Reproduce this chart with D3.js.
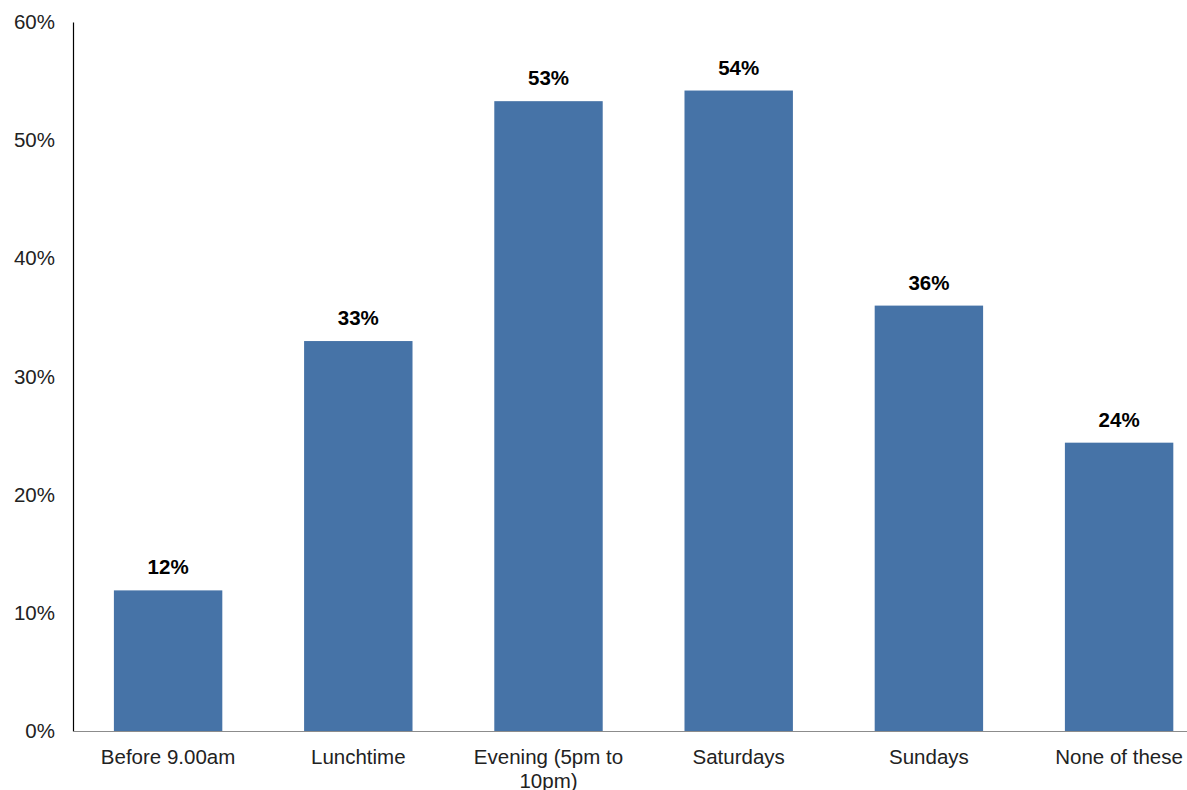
<!DOCTYPE html>
<html><head>
<meta charset="utf-8">
<script src="https://cdnjs.cloudflare.com/ajax/libs/d3/7.8.5/d3.min.js"></script>
<style>
  body { margin: 0; background: #fff; }
  svg text { font-family: "Liberation Sans", Arial, sans-serif; fill: #000; }
  .tick-label { font-size: 20.5px; fill: #222; }
  .value-label { font-size: 20.5px; font-weight: bold; text-anchor: middle; }
</style>
</head>
<body>
<script>
var categories = ["Before 9.00am", "Lunchtime", "Evening (5pm to 10pm)", "Saturdays", "Sundays", "None of these"];
var categoryLines = [["Before 9.00am"], ["Lunchtime"], ["Evening (5pm to", "10pm)"], ["Saturdays"], ["Sundays"], ["None of these"]];
var values = [0.119, 0.33, 0.533, 0.542, 0.36, 0.244];
var valueLabels = ["12%", "33%", "53%", "54%", "36%", "24%"];
var yTicks = [0, 0.1, 0.2, 0.3, 0.4, 0.5, 0.6];

var width = 1187, height = 790;
var plotLeft = 73, plotTop = 22, plotBottom = 731;
var step = 190.2;

var svg = d3.select("body").append("svg")
    .attr("width", width).attr("height", height);

var x = d3.scaleBand()
    .domain(categories)
    .range([plotLeft, plotLeft + step * categories.length])
    .paddingInner(0.43)
    .paddingOuter(0.215);

var y = d3.scaleLinear().domain([0, 0.6]).range([plotBottom, plotTop]);

// bars
svg.selectAll("rect.bar")
    .data(values)
    .enter().append("rect")
    .attr("class", "bar")
    .attr("x", function(d, i) { return x(categories[i]); })
    .attr("width", x.bandwidth())
    .attr("y", function(d) { return y(d); })
    .attr("height", function(d) { return plotBottom - y(d); })
    .attr("fill", "#4673a7");

// value labels
svg.selectAll("text.value-label")
    .data(values)
    .enter().append("text")
    .attr("class", "value-label")
    .attr("x", function(d, i) { return x(categories[i]) + x.bandwidth() / 2; })
    .attr("y", function(d) { return y(d) - 16; })
    .text(function(d, i) { return valueLabels[i]; });

// y axis
var yAxis = d3.axisLeft(y).tickValues(yTicks).tickSize(0).tickPadding(18)
    .tickFormat(d3.format(".0%"));
var gy = svg.append("g").attr("transform", "translate(" + plotLeft + ",0)").call(yAxis);
gy.select(".domain").attr("stroke", "#000").attr("stroke-width", 1.2);
gy.selectAll("text").attr("class", "tick-label").attr("font-size", null).attr("font-family", null);

// x axis line
svg.append("line")
    .attr("x1", plotLeft).attr("x2", width)
    .attr("y1", plotBottom + 0.5).attr("y2", plotBottom + 0.5)
    .attr("stroke", "#8c8c8c").attr("stroke-width", 1.2);

// category labels
var cat = svg.selectAll("text.cat")
    .data(categoryLines)
    .enter().append("text")
    .attr("class", "tick-label")
    .attr("text-anchor", "middle")
    .attr("x", function(d, i) { return x(categories[i]) + x.bandwidth() / 2; })
    .attr("y", 764);
cat.selectAll("tspan")
    .data(function(d) { return d; })
    .enter().append("tspan")
    .attr("x", function() { return d3.select(this.parentNode).attr("x"); })
    .attr("dy", function(d, i) { return i === 0 ? 0 : 24; })
    .text(function(d) { return d; });
</script>
</body></html>
